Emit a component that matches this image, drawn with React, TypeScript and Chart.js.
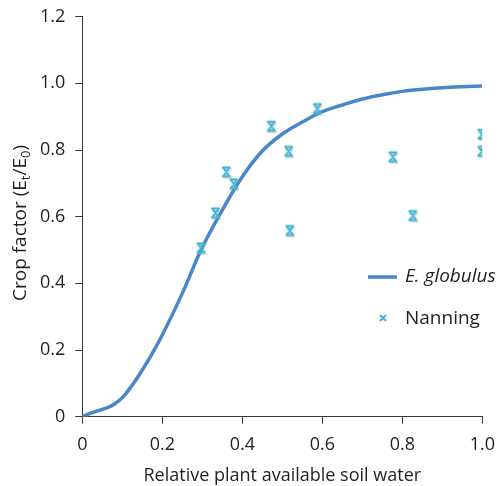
import { useEffect, useRef } from 'react';
import { Chart, registerables } from 'chart.js';
Chart.register(...registerables);

const curveX = [0, 0.025, 0.05, 0.075, 0.1, 0.125, 0.15, 0.175, 0.2, 0.25, 0.3, 0.35, 0.4, 0.45, 0.5, 0.55, 0.6, 0.65, 0.7, 0.75, 0.8, 0.85, 0.9, 0.95, 1.0];
const curveY = [0, 0.012, 0.022, 0.034, 0.057, 0.095, 0.14, 0.19, 0.245, 0.37, 0.508, 0.62, 0.72, 0.797, 0.848, 0.884, 0.915, 0.935, 0.953, 0.966, 0.976, 0.982, 0.987, 0.99, 0.992];
const nanningX = [0.298, 0.334, 0.361, 0.38, 0.4735, 0.517, 0.52, 0.5885, 0.7775, 0.8275, 1.0, 1.0];
const nanningY = [0.505, 0.61, 0.733, 0.697, 0.87, 0.795, 0.557, 0.923, 0.778, 0.602, 0.846, 0.795];
const seriesNames = ['E. globulus', 'Nanning'];
const xTitle = 'Relative plant available soil water';
const yTitleParts = ['Crop factor (E', 't', '/E', '0', ')'];

const FONT = '"Open Sans", sans-serif';
const TEXT = '#231f20';
const AXIS = '#3a3a3a';
const LINE = '#4a87c9';
const MARK = '#3db5d6';
const TARGET = { left: 82.3, top: 16.7, right: 482.3, bottom: 416.7 };

const fmt = (v: number) => (v === 0 ? '0' : v.toFixed(1));

function makeMarker() {
  const c = document.createElement('canvas');
  c.width = 14;
  c.height = 15;
  const g = c.getContext('2d')!;
  const draw = (ox: number, oy: number, col: string, w: number) => {
    g.strokeStyle = col;
    g.lineWidth = w;
    g.lineCap = 'round';
    g.beginPath();
    g.moveTo(3 + ox, 2.5 + oy); g.lineTo(10 + ox, 11.5 + oy);
    g.moveTo(10 + ox, 2.5 + oy); g.lineTo(3 + ox, 11.5 + oy);
    g.moveTo(3 + ox, 2.5 + oy); g.lineTo(10 + ox, 2.5 + oy);
    g.moveTo(3 + ox, 11.5 + oy); g.lineTo(10 + ox, 11.5 + oy);
    g.stroke();
  };
  draw(1, 1.5, 'rgba(150,150,150,0.35)', 2.2);
  draw(0, 0, MARK, 2);
  return c;
}

export default function App() {
  const ref = useRef<HTMLCanvasElement>(null);
  useEffect(() => {
    document.body.style.margin = '0';
    const marker = makeMarker();
    const titles = {
      id: 'titles',
      afterDraw(chart: any) {
        const ctx = chart.ctx;
        const ca = chart.chartArea;
        ctx.save();
        ctx.fillStyle = TEXT;
        ctx.font = `18px ${FONT}`;
        ctx.textAlign = 'center';
        ctx.textBaseline = 'alphabetic';
        ctx.fillText(xTitle, (ca.left + ca.right) / 2, 481);
        const big = `19px ${FONT}`;
        const small = `13px ${FONT}`;
        let total = 0;
        yTitleParts.forEach((p, i) => {
          ctx.font = i % 2 === 1 ? small : big;
          total += ctx.measureText(p).width;
        });
        ctx.translate(26, 223);
        ctx.rotate(-Math.PI / 2);
        ctx.textAlign = 'left';
        let x = -total / 2;
        yTitleParts.forEach((p, i) => {
          const sub = i % 2 === 1;
          ctx.font = sub ? small : big;
          ctx.fillText(p, x, sub ? 4 : 0);
          x += ctx.measureText(p).width;
        });
        ctx.restore();
        // legend
        ctx.save();
        ctx.strokeStyle = LINE;
        ctx.lineWidth = 3.5;
        ctx.beginPath();
        ctx.moveTo(368, 277);
        ctx.lineTo(397, 277);
        ctx.stroke();
        ctx.fillStyle = TEXT;
        ctx.textBaseline = 'middle';
        ctx.font = `italic 19px ${FONT}`;
        ctx.fillText(seriesNames[0], 405, 277);
        ctx.font = `19px ${FONT}`;
        ctx.fillText(seriesNames[1], 405, 319);
        ctx.strokeStyle = MARK;
        ctx.lineWidth = 2;
        const mx = 383, my = 318, r = 3;
        ctx.beginPath();
        ctx.moveTo(mx - r, my - r); ctx.lineTo(mx + r, my + r);
        ctx.moveTo(mx + r, my - r); ctx.lineTo(mx - r, my + r);
        ctx.stroke();
        ctx.restore();
      },
    };
    const pad = { left: 0, right: 498 - TARGET.right, top: TARGET.top, bottom: 0 };
    const chart = new Chart(ref.current!, {
      type: 'scatter',
      data: {
        datasets: [
          {
            label: seriesNames[0],
            data: curveX.map((x, i) => ({ x, y: curveY[i] })),
            showLine: true,
            borderColor: LINE,
            borderWidth: 3.5,
            pointRadius: 0,
            tension: 0.4,
            order: 2,
          },
          {
            label: seriesNames[1],
            data: nanningX.map((x, i) => ({ x, y: nanningY[i] })),
            pointStyle: marker,
            pointRadius: 6,
            borderColor: MARK,
            backgroundColor: MARK,
            order: 1,
          },
        ],
      },
      options: {
        animation: false,
        responsive: false,
        layout: { padding: pad },
        plugins: { legend: { display: false }, tooltip: { enabled: false } },
        scales: {
          x: {
            type: 'linear',
            min: 0,
            max: 1,
            afterFit: (s: any) => { s.height = 486 - TARGET.bottom; s.paddingLeft = 0; s.paddingRight = 0; },
            ticks: { stepSize: 0.2, callback: (v: any) => fmt(Number(v)), color: TEXT, font: { family: FONT, size: 18 }, padding: 10, maxRotation: 0 },
            grid: { drawOnChartArea: false, drawTicks: true, tickLength: 7, color: AXIS, lineWidth: 1 },
            border: { display: true, color: AXIS, width: 1 },
          },
          y: {
            type: 'linear',
            min: 0,
            max: 1.2,
            afterFit: (s: any) => { s.width = TARGET.left; s.paddingTop = 0; s.paddingBottom = 0; },
            ticks: { stepSize: 0.2, callback: (v: any) => fmt(Number(v)), color: TEXT, font: { family: FONT, size: 18 }, padding: 10 },
            grid: { drawOnChartArea: false, drawTicks: true, tickLength: 7, color: AXIS, lineWidth: 1 },
            border: { display: true, color: AXIS, width: 1 },
          },
        },
      },
      plugins: [titles],
    });
    for (let i = 0; i < 3; i++) {
      const ca = chart.chartArea;
      const dl = TARGET.left - ca.left;
      const dt = TARGET.top - ca.top;
      const dr = ca.right - TARGET.right;
      const db = ca.bottom - TARGET.bottom;
      if (Math.abs(dl) + Math.abs(dt) + Math.abs(dr) + Math.abs(db) < 0.2) break;
      pad.left = Math.max(0, pad.left + dl);
      pad.top = Math.max(0, pad.top + dt);
      pad.right = Math.max(0, pad.right + dr);
      pad.bottom = Math.max(0, pad.bottom + db);
      (chart.options as any).layout.padding = { ...pad };
      chart.update();
    }
    return () => chart.destroy();
  }, []);
  return <canvas ref={ref} width={498} height={486} style={{ display: 'block' }} />;
}
